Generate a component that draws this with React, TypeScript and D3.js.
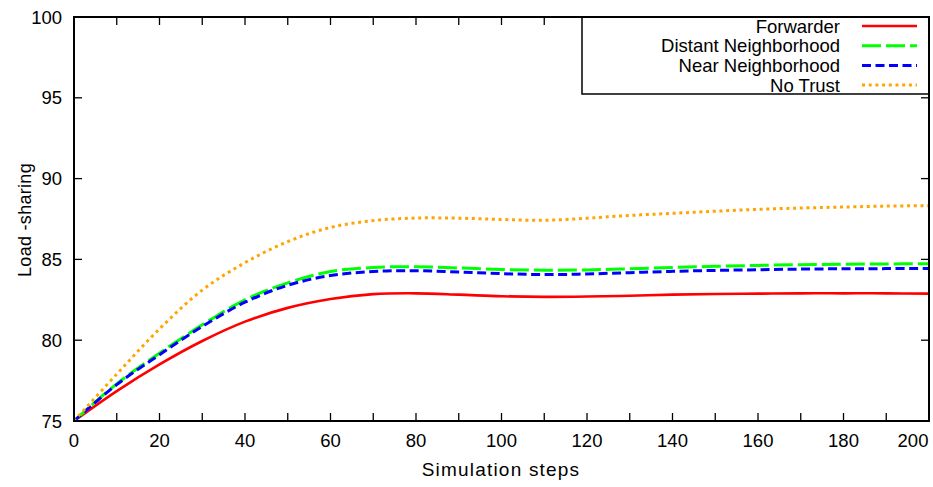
import React from "react";
import * as d3 from "d3";

// simulation steps (x) sampled every 10
const steps = [0, 10, 20, 30, 40, 50, 60, 70, 80, 90, 100, 110, 120, 130, 140, 150, 160, 170, 180, 190, 200];

// load-sharing values
const forwarder = [75, 76.85, 78.5, 79.95, 81.15, 82.0, 82.55, 82.85, 82.9, 82.82, 82.72, 82.68, 82.7, 82.75, 82.82, 82.86, 82.88, 82.9, 82.9, 82.9, 82.88];
const distant = [75, 77.3, 79.2, 80.95, 82.5, 83.55, 84.25, 84.5, 84.55, 84.47, 84.38, 84.33, 84.35, 84.42, 84.5, 84.57, 84.63, 84.67, 84.7, 84.72, 84.73];
const near = [75, 77.25, 79.1, 80.85, 82.35, 83.4, 84.0, 84.25, 84.3, 84.22, 84.12, 84.06, 84.1, 84.18, 84.26, 84.32, 84.36, 84.4, 84.42, 84.43, 84.44];
const noTrust = [75, 77.9, 80.7, 83.1, 84.8, 86.1, 86.98, 87.4, 87.56, 87.55, 87.47, 87.42, 87.55, 87.72, 87.85, 87.98, 88.1, 88.18, 88.24, 88.3, 88.32];

const seriesNames = ["Forwarder", "Distant Neighborhood", "Near Neighborhood", "No Trust"];
const seriesColors = ["#ff0000", "#00ff00", "#0000ff", "#ffa500"];
const seriesDash = ["none", "19,5", "9,4.5", "3,3.7"];

const xTicks = d3.range(0, 201, 10);
const xLabels = d3.range(0, 201, 20);
const yTicks = [75, 80, 85, 90, 95, 100];

const W = 933, H = 487;
const margin = { top: 17, right: 4, bottom: 66, left: 74 };
const font = "'Liberation Sans', Arial, Helvetica, sans-serif";

const App = () => {
	const x = d3.scaleLinear().domain([0, 200]).range([margin.left, W - margin.right]);
	const y = d3.scaleLinear().domain([75, 100]).range([H - margin.bottom, margin.top]);
	const allSeries = [forwarder, distant, near, noTrust];

	const line = d3.line<number>()
		.x((d, i) => x(steps[i]))
		.y(d => y(d))
		.curve(d3.curveCatmullRom.alpha(0.5));

	const x0 = x(0), x1 = x(200), y0 = y(75), y1 = y(100);
	const tl = 8; // tick length

	// legend box
	const legLeft = 582, legBottom = 94;
	const rowY = (i: number) => 26 + i * 19.7;

	return (
		<svg width={W} height={H} style={{ position: "absolute", left: 0, top: 0, background: "white" }}>
			{/* ticks, inward, mirrored */}
			<g stroke="black" strokeWidth={1.3}>
				{xTicks.map(t => (
					<g key={"xt" + t}>
						<line x1={x(t)} x2={x(t)} y1={y0} y2={y0 - tl} />
						<line x1={x(t)} x2={x(t)} y1={y1} y2={y1 + tl} />
					</g>
				))}
				{yTicks.map(t => (
					<g key={"yt" + t}>
						<line x1={x0} x2={x0 + tl} y1={y(t)} y2={y(t)} />
						<line x1={x1} x2={x1 - tl} y1={y(t)} y2={y(t)} />
					</g>
				))}
			</g>

			{/* tick labels */}
			<g fontFamily={font} fontSize={18.5} fill="black">
				{xLabels.map(t => (
					<text key={"xl" + t} x={t === 200 ? x(t) - 16 : x(t)} y={447} textAnchor="middle">{t}</text>
				))}
				{yTicks.map(t => (
					<text key={"yl" + t} x={62} y={y(t) + 6.5} textAnchor="end">{t}</text>
				))}
			</g>

			{/* axis titles */}
			<text x={501} y={476} textAnchor="middle" fontFamily={font} fontSize={19} letterSpacing={1.2}>Simulation steps</text>
			<text transform={`translate(31, 220) rotate(-90)`} textAnchor="middle" fontFamily={font} fontSize={18} letterSpacing={0.3}>Load -sharing</text>

			{/* series */}
			<g fill="none">
				{allSeries.map((s, i) => (
					<path key={seriesNames[i]} d={line(s) || ""} stroke={seriesColors[i]}
						strokeWidth={i === 0 ? 2.6 : 3} strokeDasharray={seriesDash[i]} />
				))}
			</g>

			{/* legend */}
			<rect x={legLeft} y={y1} width={x1 - legLeft} height={legBottom - y1} fill="white" stroke="black" strokeWidth={1.5} />
			{seriesNames.map((n, i) => (
				<g key={"leg" + n}>
					<text x={840} y={rowY(i) + 6.5} textAnchor="end" fontFamily={font} fontSize={18.5}>{n}</text>
					<line x1={862} x2={917} y1={rowY(i)} y2={rowY(i)} stroke={seriesColors[i]}
						strokeWidth={i === 0 ? 2.6 : 3} strokeDasharray={seriesDash[i]} />
				</g>
			))}

			{/* border */}
			<rect x={x0} y={y1} width={x1 - x0} height={y0 - y1} fill="none" stroke="black" strokeWidth={2} />
		</svg>
	);
};

export default App;
